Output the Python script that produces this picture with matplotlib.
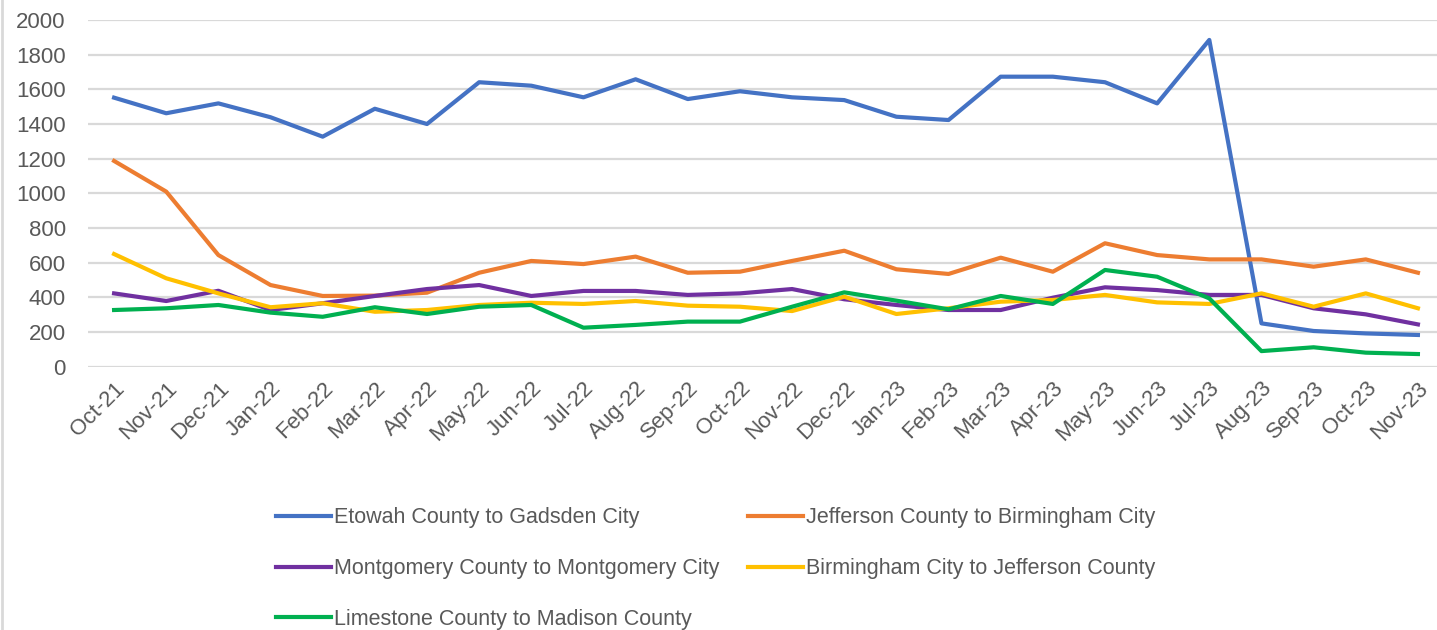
import matplotlib
matplotlib.use("Agg")
import matplotlib.pyplot as plt
from matplotlib.lines import Line2D

# Meses del eje x
meses = ["Oct-21", "Nov-21", "Dec-21", "Jan-22", "Feb-22", "Mar-22", "Apr-22", "May-22",
         "Jun-22", "Jul-22", "Aug-22", "Sep-22", "Oct-22", "Nov-22", "Dec-22", "Jan-23",
         "Feb-23", "Mar-23", "Apr-23", "May-23", "Jun-23", "Jul-23", "Aug-23", "Sep-23",
         "Oct-23", "Nov-23"]

# Series
etowah = [1552, 1462, 1519, 1439, 1327, 1488, 1400, 1641, 1621, 1554, 1658, 1544, 1589,
          1554, 1538, 1442, 1423, 1673, 1673, 1641, 1519, 1885, 250, 206, 192, 183]
jefferson = [1187, 1010, 644, 471, 408, 410, 427, 542, 610, 592, 635, 542, 548,
             610, 669, 562, 535, 629, 548, 712, 644, 619, 619, 577, 619, 542]
montgomery = [423, 379, 438, 327, 366, 408, 448, 471, 408, 437, 437, 414, 423,
              448, 389, 356, 327, 327, 398, 458, 442, 414, 414, 337, 302, 244]
birmingham = [650, 510, 423, 343, 366, 317, 327, 356, 369, 362, 379, 352, 346,
              321, 404, 304, 337, 375, 385, 414, 371, 362, 423, 346, 423, 337]
limestone = [327, 337, 356, 312, 288, 343, 304, 346, 356, 225, 241, 260, 260,
             346, 429, 381, 331, 408, 362, 558, 519, 394, 90, 112, 81, 73]

nombres = ["Etowah County to Gadsden City", "Jefferson County to Birmingham City",
           "Montgomery County to Montgomery City", "Birmingham City to Jefferson County",
           "Limestone County to Madison County"]
colores = ["#4472C4", "#ED7D31", "#7030A0", "#FFC000", "#00B050"]

plt.rcParams['font.family'] = ['Liberation Sans', 'DejaVu Sans']

fig = plt.figure(figsize=(14.37, 6.3), dpi=100)
ax = fig.add_axes([88 / 1437, 1 - 366.7 / 630, (1444 - 88) / 1437, (366.7 - 20) / 630])

x = range(len(meses))
lineas = {}
for nombre, serie, color in zip(nombres, [etowah, jefferson, montgomery, birmingham, limestone], colores):
    lineas[nombre], = ax.plot(x, serie, color=color, lw=3, label=nombre, zorder=3)

ax.set_xlim(-0.5, len(meses) - 0.5)
ax.set_ylim(0, 2000)
ax.set_yticks(range(0, 2001, 200))
ax.set_xticks(list(x))
ax.set_xticklabels(meses, rotation=45, ha='right', rotation_mode='anchor')
ax.tick_params(axis='both', length=0, labelsize=16, colors='#595959')
ax.tick_params(axis='y', pad=16)
ax.tick_params(axis='x', pad=8)
ax.grid(axis='y', color='#D9D9D9', lw=1.6)
ax.set_axisbelow(True)
for s in ax.spines.values():
    s.set_visible(False)

# Leyenda en dos columnas (orden por columnas)
orden = [nombres[0], nombres[2], nombres[4], nombres[1], nombres[3]]
fig.legend([lineas[n] for n in orden], orden, ncol=2, loc='upper left',
           bbox_to_anchor=(257 / 1437, 1 - 488 / 630), frameon=False,
           fontsize=15.5, labelcolor='#595959', handlelength=2.55, handletextpad=0.14,
           columnspacing=1.3, labelspacing=1.38)

# Borde izquierdo del grafico
fig.add_artist(Line2D([2 / 1437, 2 / 1437], [0, 1], transform=fig.transFigure,
                      color='#D9D9D9', lw=2))

fig.savefig("out.png", dpi=100)
